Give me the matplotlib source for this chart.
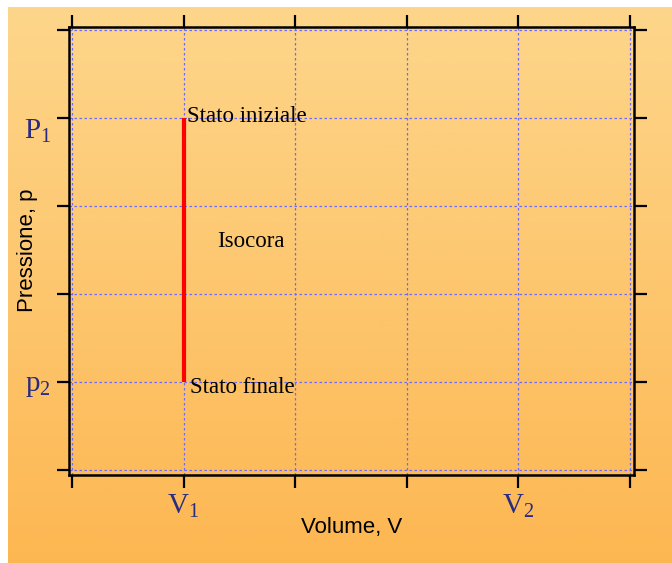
import numpy as np
import matplotlib
matplotlib.use("Agg")
import matplotlib.pyplot as plt
from matplotlib.colors import LinearSegmentedColormap

plt.rcParams['mathtext.fontset'] = 'custom'
plt.rcParams['mathtext.rm'] = 'Liberation Serif'
plt.rcParams['mathtext.it'] = 'Liberation Serif:italic'

# ---- data ----
x_ticks = [0, 1, 2, 3, 4, 5]
x_labels = ['', r'$\mathregular{V_1}$', '', '', r'$\mathregular{V_2}$', '']
y_ticks = [0, 1, 2, 3, 4, 5]
y_labels = ['', r'$\mathregular{p_2}$', '', '', r'$\mathregular{P_1}$', '']
iso_volume = [1, 1]
iso_pressure = [4, 1]

W, H = 672, 563
fig = plt.figure(figsize=(W / 100, H / 100), dpi=100)
fig.patch.set_facecolor('white')

# gradient background
bg = fig.add_axes([8 / W, 0, (W - 8) / W, (H - 7) / H])
bg.set_axis_off()
cmap = LinearSegmentedColormap.from_list('bg', ['#fdd68b', '#fdb752'])
grad = np.linspace(0, 1, 256).reshape(-1, 1)
bg.imshow(grad, aspect='auto', cmap=cmap, extent=[0, 1, 0, 1], origin='upper')

left, right, top, bottom = 69, 634, 27, 475
ax = fig.add_axes([left / W, (H - bottom) / H, (right - left) / W, (bottom - top) / H])
ax.set_facecolor('none')
ax.set_xlim(-0.027, 5.036)
ax.set_ylim(-0.057, 5.034)

ax.set_xticks(x_ticks)
ax.set_xticklabels(x_labels)
ax.set_yticks(y_ticks)
ax.set_yticklabels(y_labels)

for sp in ax.spines.values():
    sp.set_linewidth(1.8)
    sp.set_color('black')

ax.tick_params(which='both', direction='out', length=9, width=1.6,
               top=True, right=True, labeltop=False, labelright=False,
               colors='black', pad=4)
navy = '#2b2b80'
for lab in ax.get_xticklabels() + ax.get_yticklabels():
    lab.set_fontfamily('Liberation Serif')
    lab.set_fontsize(21)
    lab.set_color(navy)
for lab, v in zip(ax.get_yticklabels(), y_ticks):
    if v == 4:
        lab.set_verticalalignment('top')

ax.grid(True, color='#6b6bff', linestyle=(0, (2, 2)), linewidth=0.9)
ax.set_axisbelow(True)

ax.plot(iso_volume, iso_pressure, color='#ff0000', linewidth=3, solid_capstyle='butt', zorder=3)

serif = 'Liberation Serif'
ax.text(1.027, 3.95, 'Stato iniziale', fontfamily=serif, fontsize=16.5, va='baseline', ha='left', color='black')
ax.text(1.054, 0.875, 'Stato finale', fontfamily=serif, fontsize=16.5, va='baseline', ha='left', color='black')
ax.text(1.304, 2.53, 'Isocora', fontfamily=serif, fontsize=16.5, va='baseline', ha='left', color='black')

ax.set_xlabel('Volume, V', fontfamily='Liberation Sans', fontsize=16, color='black')
ax.xaxis.label.set_va('baseline')
ax.xaxis.set_label_coords(0.5, (bottom - 533) / (bottom - top))
ax.set_ylabel('Pressione, p', fontfamily='Liberation Sans', fontsize=16, color='black')
ax.yaxis.label.set_va('center')
ax.yaxis.set_label_coords((28 - left) / (right - left), (bottom - 250) / (bottom - top))

fig.savefig('out.png', dpi=100)
